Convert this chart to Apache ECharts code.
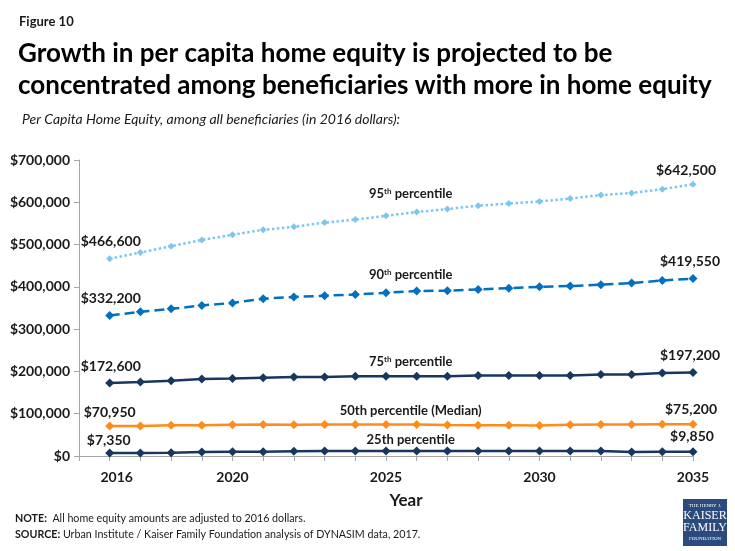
<!DOCTYPE html>
<html><head><meta charset="utf-8">
<script src="https://cdn.jsdelivr.net/npm/echarts@6/dist/echarts.min.js"></script>
<style>html,body{margin:0;padding:0;background:#fff}#c{width:735px;height:551px}</style>
</head><body><div id="c"></div>
<script>
var years = [2016,2017,2018,2019,2020,2021,2022,2023,2024,2025,2026,2027,2028,2029,2030,2031,2032,2033,2034,2035];
var p95 = [466600,481000,496000,511000,523000,535000,542000,552000,559000,568000,577000,584000,592000,597000,602000,609000,617000,622000,631000,642500];
var p90 = [332200,341000,348000,356000,362000,372000,376000,379000,382000,386000,390000,391000,394000,397000,400000,402000,405000,409000,415000,419550];
var p75 = [172600,175000,178000,182000,183000,185000,187000,187000,188500,188500,188500,188500,190500,190500,190500,190500,193000,193000,196000,197200];
var p50 = [70950,71200,72500,72800,74000,74200,74000,74400,74500,74500,74300,73200,73000,72800,72300,74000,74200,74300,74800,75200];
var p25 = [7350,7300,7400,9600,9800,9900,11500,11700,11800,11900,12000,12000,12100,12100,12000,12000,11900,9700,9800,9850];
var xTickLabels = [2016,2020,2025,2030,2035];
var yTicks = [0,100000,200000,300000,400000,500000,600000,700000];

var FONT = 'Lato';
function money(v){ return '$' + v.toLocaleString('en-US'); }

function buildData(vals, name, nameRich, cfg){
  return vals.map(function(v, i){
    var d = { value: [years[i], v] };
    if (i === 0) {
      d.label = { show: true, position: 'inside', offset: cfg.first, formatter: money(v), color: '#1a1a1a', fontFamily: FONT, fontWeight: 'bold', fontSize: 14 };
    } else if (i === vals.length - 1) {
      d.label = { show: true, position: 'inside', offset: cfg.last, formatter: money(v), color: '#1a1a1a', fontFamily: FONT, fontWeight: 'bold', fontSize: 14 };
    } else if (years[i] === 2026) {
      d.label = { show: true, position: 'inside', offset: cfg.name, formatter: nameRich, color: '#1a1a1a', fontFamily: FONT, fontWeight: 'bold', fontSize: 13,
        rich: {
          a: { fontFamily: FONT, fontWeight: 'bold', fontSize: 13, color: '#1a1a1a' },
          s: { fontFamily: FONT, fontWeight: 'bold', fontSize: 8, color: '#1a1a1a', verticalAlign: 'top', padding: [0,0,6,0] }
        } };
    }
    return d;
  });
}

function mkSeries(name, vals, color, type, symSize, nameRich, cfg){
  return {
    name: name, type: 'line', data: buildData(vals, name, nameRich, cfg),
    symbol: 'diamond', symbolSize: symSize, itemStyle: { color: color },
    lineStyle: { color: color, width: 2.5, type: type }, animation: false,
    label: { show: false }, emphasis: { disabled: true }
  };
}

var chart = echarts.init(document.getElementById('c'), null, { renderer: 'canvas' });
chart.setOption({
  backgroundColor: '#fff',
  animation: false,
  title: [
    { text: 'Figure 10', left: 14, top: 10, textStyle: { fontFamily: FONT, fontWeight: 'bold', fontSize: 13, color: '#1a1a1a' } },
    { text: 'Growth in per capita home equity is projected to be\nconcentrated among beneficiaries with more in home equity', left: 13, top: 33,
      textStyle: { fontFamily: FONT, fontWeight: 'bold', fontSize: 26, lineHeight: 32, color: '#000' } },
    { text: 'Per Capita Home Equity, among all beneficiaries (in 2016 dollars):', left: 17, top: 107,
      textStyle: { fontFamily: FONT, fontStyle: 'italic', fontWeight: 'normal', fontSize: 14, color: '#1a1a1a' } }
  ],
  grid: { left: 79, right: 42, top: 160, bottom: 95, containLabel: false },
  xAxis: {
    type: 'value', min: 2015, max: 2035, interval: 1,
    name: 'Year', nameLocation: 'middle', nameGap: 36,
    nameTextStyle: { fontFamily: FONT, fontWeight: 'bold', fontSize: 17, color: '#1a1a1a', padding: [0,0,0,40] },
    axisLine: { show: true, lineStyle: { color: '#a6a6a6', width: 1 } },
    axisTick: { show: true, length: 5, lineStyle: { color: '#a6a6a6' } },
    splitLine: { show: false },
    axisLabel: {
      margin: 14, color: '#1a1a1a', fontFamily: FONT, fontWeight: 'bold', fontSize: 14,
      formatter: function(v){
        if (xTickLabels.indexOf(v) < 0) return '';
        if (v === 2016) return '{p|' + v + '}';
        return String(v);
      },
      rich: { p: { fontFamily: FONT, fontWeight: 'bold', fontSize: 14, color: '#1a1a1a', padding: [0,0,0,14] } }
    }
  },
  yAxis: {
    type: 'value', min: 0, max: 700000, interval: 100000,
    axisLine: { show: true, lineStyle: { color: '#a6a6a6', width: 1 } },
    axisTick: { show: true, length: 5, lineStyle: { color: '#a6a6a6' } },
    splitLine: { show: false },
    axisLabel: { margin: 9, color: '#1a1a1a', fontFamily: FONT, fontWeight: 'bold', fontSize: 14,
      formatter: function(v){ return yTicks.indexOf(v) >= 0 ? money(v) : ''; } }
  },
  series: [
    mkSeries('95th percentile', p95, '#7CC6F0', 'dotted', 7, '{a|95}{s|th}{a| percentile}', { first: [1, -17], last: [-7, -14], name: [-6, -18] }),
    mkSeries('90th percentile', p90, '#0070C0', 'dashed', 9, '{a|90}{s|th}{a| percentile}', { first: [1, -17], last: [-3, -17], name: [-6, -16] }),
    mkSeries('75th percentile', p75, '#17375E', 'solid', 9, '{a|75}{s|th}{a| percentile}', { first: [1, -17], last: [-3, -17], name: [-6, -14] }),
    mkSeries('50th percentile (Median)', p50, '#FF8C1A', 'solid', 9, '{a|50th percentile (Median)}', { first: [0, -14], last: [-2, -15], name: [-6, -14] }),
    mkSeries('25th percentile', p25, '#17375E', 'solid', 9, '{a|25th percentile}', { first: [-1, -12], last: [-1, -15], name: [-6, -11] })
  ],
  graphic: [
    { type: 'text', left: 15, top: 513, style: { text: '{b|NOTE:}  All home equity amounts are adjusted to 2016 dollars.', fill: '#1a1a1a', font: '10.7px Lato',
      rich: { b: { fontFamily: FONT, fontWeight: 'bold', fontSize: 10.7, fill: '#1a1a1a' } } } },
    { type: 'text', left: 15, top: 529, style: { text: '{b|SOURCE:} Urban Institute / Kaiser Family Foundation analysis of DYNASIM data, 2017.', fill: '#1a1a1a', font: '10.7px Lato',
      rich: { b: { fontFamily: FONT, fontWeight: 'bold', fontSize: 10.7, fill: '#1a1a1a' } } } },
    { type: 'rect', shape: { x: 683, y: 499, width: 44, height: 47 }, style: { fill: '#2B4A7E' } },
    { type: 'text', x: 705, y: 503, style: { text: 'THE HENRY J.', fill: '#fff', font: '5px "Liberation Serif"', align: 'center' } },
    { type: 'text', x: 705, y: 510, style: { text: 'KAISER', fill: '#fff', font: '12px "Liberation Serif"', align: 'center' } },
    { type: 'text', x: 705, y: 522, style: { text: 'FAMILY', fill: '#fff', font: '12px "Liberation Serif"', align: 'center' } },
    { type: 'text', x: 705, y: 536, style: { text: 'FOUNDATION', fill: '#fff', font: '5px "Liberation Serif"', align: 'center' } }
  ]
});
</script>
</body></html>
